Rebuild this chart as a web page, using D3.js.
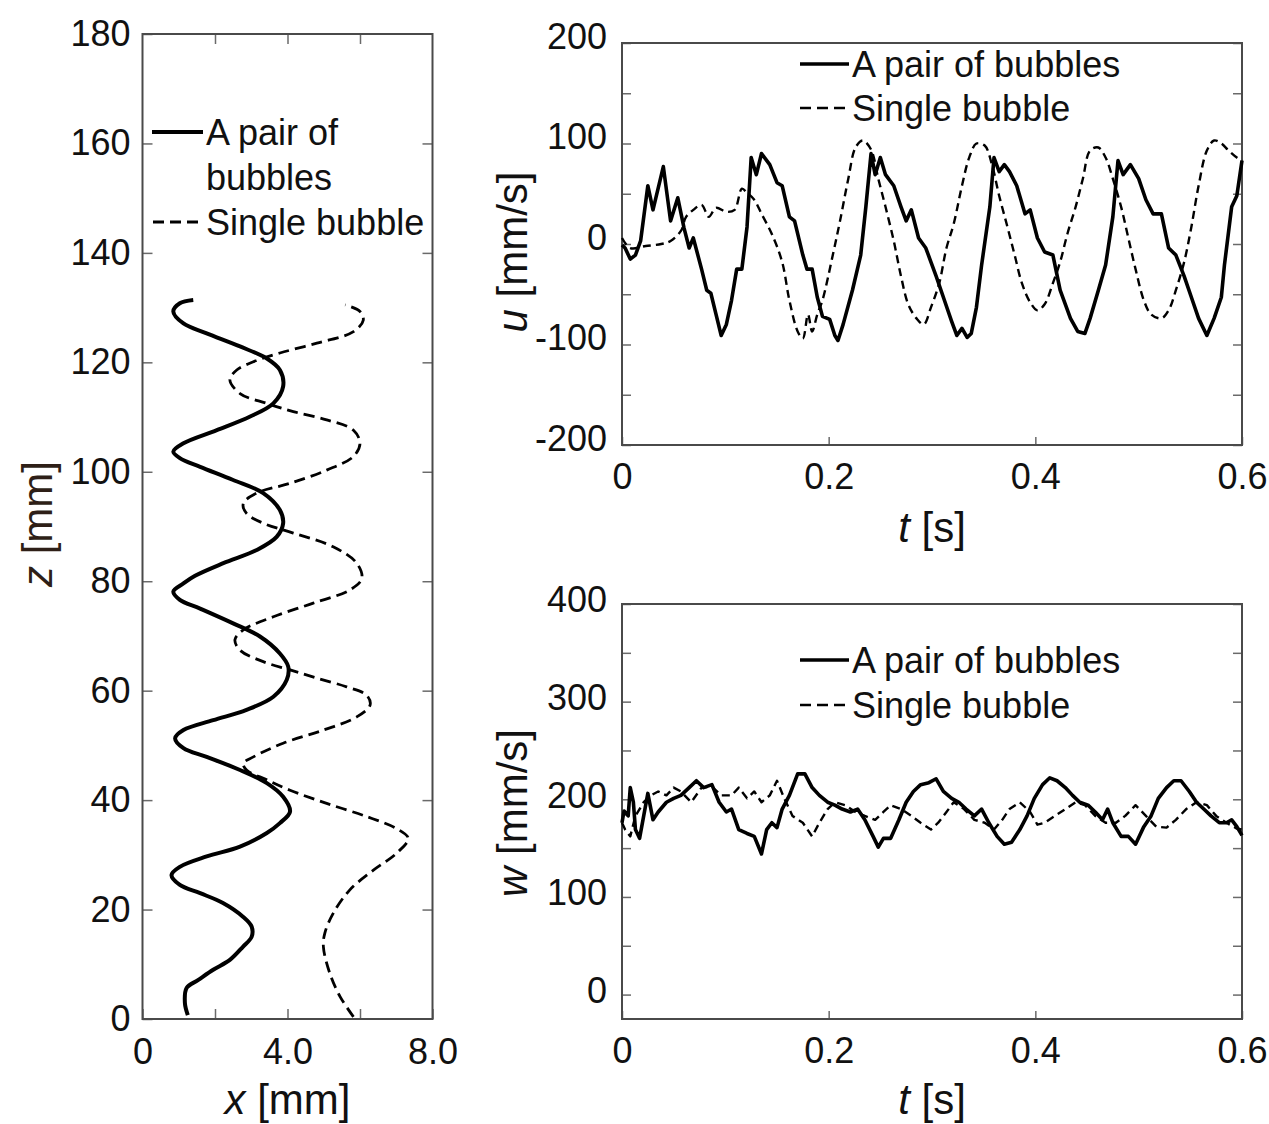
<!DOCTYPE html>
<html><head><meta charset="utf-8">
<script src="https://cdn.jsdelivr.net/npm/d3@7"></script>
<style>
body{margin:0;background:#fff;}
svg text{font-family:"Liberation Sans",Arial,Helvetica,sans-serif;fill:#111;}
</style></head><body>
<svg id="c" width="1269" height="1124"></svg>
<script>
// ---------- Data: left panel (trajectory z vs x) ----------
const pairZ = [0.7,2.9,5.7,7.1,9,10.8,13.2,15,16.9,18.7,21.2,23,24.5,26.3,27.8,29.7,31.5,34,35.8,37.9,40.6,43.1,45.5,47.9,49.5,51.3,52.8,54.6,56.5,58.9,62,64.4,66.8,69.9,72.3,75,76.6,78.1,79.6,81,83.3,85.7,88.1,90.6,93,96.1,98.5,100.9,102.5,103.7,105.2,107.6,110.1,112.5,115.6,118.6,120.7,122.9,125.3,127.1,129.3,130.8,131.4];
const pairX = [1.25,1.17,1.22,1.53,1.95,2.41,2.77,3.01,3.01,2.77,2.22,1.59,1.03,0.8,1.03,1.77,2.69,3.43,3.79,4.07,3.88,3.43,2.69,1.77,1.13,0.9,1.13,1.95,2.87,3.61,3.98,4.02,3.79,3.24,2.5,1.59,1.03,0.85,1.13,1.45,2.23,3.15,3.70,3.88,3.79,3.33,2.5,1.59,1.03,0.85,1.13,2.05,2.97,3.61,3.88,3.79,3.43,2.69,1.77,1.13,0.85,1.03,1.40];
const singleZ = [0.4,4.1,8.3,13.2,15.7,19.3,23.6,27.2,30.3,33,34.8,37,39.4,41.8,43.7,45.5,46.7,47.9,50.4,52.8,55.2,57.4,59.2,60.7,62.3,63.8,65.3,67.4,69.3,71.1,73.5,76,78.4,80.5,83.3,86.3,88.8,90.6,92.4,94.2,96.1,97.9,100.3,102.8,105.2,107.6,109.5,111,112.5,114.3,116.8,118.6,120.1,121.7,123.5,125.6,127.7,129.3,130.5];
const singleX = [5.82,5.45,5.17,4.99,5.03,5.26,5.72,6.37,7.01,7.33,7.01,6.18,5.08,4.07,3.43,2.87,2.78,3.06,3.88,4.99,5.91,6.28,6.18,5.63,4.81,4.07,3.33,2.69,2.55,2.78,3.61,4.71,5.72,6.05,5.91,5.26,4.16,3.33,2.87,2.78,3.15,4.07,5.08,5.82,6.0,5.82,5.08,4.16,3.43,2.69,2.41,2.60,3.06,3.79,4.81,5.82,6.09,6.0,5.59];

// ---------- Data: top-right (u vs t) ----------
const tPairU = [0,0.003,0.008,0.013,0.018,0.025,0.030,0.040,0.047,0.054,0.060,0.065,0.069,0.077,0.082,0.086,0.091,0.096,0.101,0.106,0.111,0.116,0.121,0.125,0.130,0.135,0.143,0.150,0.155,0.162,0.167,0.175,0.179,0.184,0.189,0.194,0.201,0.206,0.209,0.214,0.223,0.231,0.236,0.241,0.245,0.250,0.255,0.263,0.270,0.275,0.280,0.287,0.294,0.299,0.304,0.312,0.319,0.324,0.329,0.334,0.338,0.343,0.348,0.356,0.360,0.365,0.370,0.375,0.382,0.390,0.395,0.402,0.409,0.417,0.424,0.434,0.441,0.448,0.453,0.461,0.468,0.475,0.480,0.485,0.492,0.500,0.507,0.514,0.522,0.529,0.536,0.544,0.551,0.558,0.566,0.573,0.580,0.583,0.590,0.595,0.600];
const uPair = [-1,-4,-15,-11,3,58,34,77,23,46,16,-4,6,-25,-46,-49,-70,-91,-80,-56,-25,-25,17,86,69,90,79,61,58,27,23,-11,-25,-25,-53,-72,-75,-91,-96,-80,-46,-11,37,90,69,86,69,58,37,23,34,6,-4,-18,-32,-56,-77,-91,-84,-93,-89,-63,-21,37,86,72,79,72,58,30,34,6,-8,-11,-46,-74,-87,-89,-74,-46,-21,27,83,69,79,65,44,30,30,-4,-11,-32,-53,-74,-91,-74,-53,-21,37,48,83];
const tSingleU = [0,0.008,0.023,0.038,0.047,0.057,0.062,0.069,0.077,0.084,0.091,0.101,0.109,0.116,0.121,0.128,0.135,0.145,0.155,0.162,0.170,0.175,0.180,0.184,0.189,0.194,0.204,0.211,0.219,0.226,0.233,0.241,0.248,0.255,0.263,0.270,0.277,0.285,0.292,0.299,0.307,0.314,0.321,0.329,0.336,0.343,0.351,0.358,0.365,0.373,0.380,0.387,0.395,0.402,0.409,0.417,0.424,0.431,0.439,0.446,0.453,0.461,0.468,0.475,0.483,0.490,0.497,0.505,0.512,0.522,0.529,0.536,0.544,0.551,0.558,0.566,0.573,0.580,0.587,0.595,0.600];
const uSingle = [6,-4,-2,0,3,13,27,34,39,27,36,32,34,55,51,44,30,10,-18,-56,-87,-94,-70,-87,-70,-56,-11,23,65,96,103,94,65,37,3,-32,-60,-74,-80,-63,-39,-4,20,58,86,100,98,79,48,17,-11,-39,-58,-66,-60,-39,-18,10,37,65,93,96,86,65,37,6,-25,-56,-70,-74,-66,-46,-18,17,58,93,103,100,93,86,83];

// ---------- Data: bottom-right (w vs t) ----------
const tPairW = [0,0.002,0.006,0.008,0.011,0.013,0.017,0.021,0.025,0.030,0.035,0.043,0.050,0.057,0.065,0.072,0.079,0.087,0.094,0.101,0.106,0.113,0.121,0.128,0.135,0.140,0.145,0.150,0.155,0.162,0.170,0.177,0.184,0.191,0.199,0.206,0.213,0.221,0.228,0.235,0.243,0.248,0.253,0.260,0.268,0.275,0.282,0.289,0.297,0.304,0.311,0.319,0.326,0.333,0.341,0.348,0.355,0.363,0.370,0.377,0.385,0.392,0.399,0.407,0.414,0.421,0.429,0.436,0.443,0.451,0.458,0.465,0.470,0.475,0.483,0.490,0.497,0.505,0.512,0.519,0.527,0.534,0.541,0.549,0.556,0.563,0.570,0.578,0.585,0.590,0.595,0.600];
const wPair = [176,188,183,212,197,169,160,183,206,179,187,197,201,204,212,219,212,215,197,187,190,169,165,162,144,169,176,171,190,204,226,226,212,204,197,194,190,187,190,179,162,151,160,160,179,197,208,215,217,221,208,201,197,190,183,190,176,162,154,156,169,183,201,215,222,219,212,204,197,194,187,179,190,176,162,162,154,172,183,201,212,219,219,208,197,190,183,176,176,179,172,163];
const tSingleW = [0,0.003,0.008,0.013,0.021,0.028,0.035,0.043,0.050,0.057,0.067,0.077,0.087,0.096,0.106,0.113,0.121,0.128,0.135,0.143,0.150,0.157,0.165,0.175,0.184,0.191,0.199,0.206,0.216,0.226,0.235,0.245,0.253,0.260,0.270,0.280,0.289,0.299,0.306,0.314,0.321,0.331,0.341,0.351,0.360,0.368,0.375,0.385,0.395,0.402,0.409,0.419,0.429,0.439,0.448,0.458,0.468,0.478,0.487,0.497,0.507,0.517,0.527,0.536,0.546,0.556,0.566,0.575,0.585,0.595,0.600];
const wSingle = [176,169,162,183,197,204,208,204,212,208,197,212,213,204,204,212,201,208,197,204,219,201,183,176,162,176,190,197,194,187,183,179,187,194,190,183,176,169,176,187,197,190,179,176,169,179,190,197,187,174,176,183,190,197,194,183,176,176,183,194,183,172,171,179,190,197,194,183,176,170,169];

// ---------- Tick labels ----------
const zTicks = [0,20,40,60,80,100,120,140,160,180];
const xTicks = [0,2,4,6,8];
const xTickLabels = {0:"0",4:"4.0",8:"8.0"};
const uTicks = [-200,-150,-100,-50,0,50,100,150,200];
const wTicks = [0,50,100,150,200,250,300,350,400];
const tTicks = [0,0.2,0.4,0.6];
const tTickLabels = ["0","0.2","0.4","0.6"];
const legendNames = ["A pair of bubbles","Single bubble"];

const svg = d3.select("#c");

// ---------- Scales ----------
const xL = d3.scaleLinear().domain([0,8]).range([142.5,432.5]);
const zL = d3.scaleLinear().domain([0,180]).range([1019,34]);
const tS = d3.scaleLinear().domain([0,0.6]).range([622,1242]);
const uS = d3.scaleLinear().domain([-200,200]).range([445,43]);
const wS = d3.scaleLinear().domain([-25,400]).range([1019,604]);

function styleAxis(g, fs){
  g.select(".domain").remove();
  g.attr("font-family",null).attr("font-size",null);
  g.selectAll(".tick line").attr("stroke","#6a6a6a").attr("stroke-width",1.5);
  g.selectAll(".tick text").style("font-size",fs+"px").attr("fill","#111");
}
function frame(xs, ys){
  const [x0,x1]=xs.range(), [y0,y1]=ys.range();
  svg.append("rect").attr("x",Math.min(x0,x1)).attr("y",Math.min(y0,y1))
    .attr("width",Math.abs(x1-x0)).attr("height",Math.abs(y1-y0))
    .attr("fill","none").attr("stroke","#4a4a4a").attr("stroke-width",2);
}

// ---------- Left panel ----------
svg.append("g").attr("transform","translate(142.5,0)")
  .call(d3.axisLeft(zL).tickValues(zTicks).tickSize(-10).tickPadding(12).tickFormat(d=>String(d)))
  .call(g=>styleAxis(g,36));
svg.append("g").attr("transform","translate(432.5,0)")
  .call(d3.axisRight(zL).tickValues(zTicks.slice(1,-1)).tickSize(-10).tickFormat(""))
  .call(g=>styleAxis(g,36));
svg.append("g").attr("transform","translate(0,1019)")
  .call(d3.axisBottom(xL).tickValues(xTicks).tickSize(-10).tickPadding(19).tickFormat(d=>xTickLabels[d]||""))
  .call(g=>styleAxis(g,36));
svg.append("g").attr("transform","translate(0,34)")
  .call(d3.axisTop(xL).tickValues(xTicks.slice(1,-1)).tickSize(-10).tickFormat(""))
  .call(g=>styleAxis(g,36));
frame(xL,zL);

const lineL = d3.line().x(d=>xL(d[0])).y(d=>zL(d[1])).curve(d3.curveCatmullRom.alpha(0.5));
svg.append("path").datum(pairX.map((v,i)=>[v,pairZ[i]])).attr("d",lineL)
  .attr("fill","none").attr("stroke","#000").attr("stroke-width",4).attr("stroke-linejoin","round");
svg.append("path").datum(singleX.map((v,i)=>[v,singleZ[i]])).attr("d",lineL)
  .attr("fill","none").attr("stroke","#000").attr("stroke-width",2.8).attr("stroke-dasharray","11,6");

// left legend
svg.append("line").attr("x1",152).attr("x2",203).attr("y1",132).attr("y2",132).attr("stroke","#000").attr("stroke-width",4);
svg.append("text").attr("x",206).attr("y",145).style("font-size","36px").text("A pair of");
svg.append("text").attr("x",206).attr("y",190).style("font-size","36px").text("bubbles");
svg.append("line").attr("x1",153).attr("x2",203).attr("y1",222).attr("y2",222).attr("stroke","#000").attr("stroke-width",2.8).attr("stroke-dasharray","11,6");
svg.append("text").attr("x",206).attr("y",235).style("font-size","36px").text(legendNames[1]);

// left axis titles
const xt = svg.append("text").attr("x",287.5).attr("y",1114).attr("text-anchor","middle").style("font-size","42px");
xt.append("tspan").style("font-style","italic").text("x");
xt.append("tspan").text(" [mm]");
const zt = svg.append("text").attr("transform","translate(52,524) rotate(-90)").attr("text-anchor","middle").style("font-size","42px").style("fill","#2e1f17");
zt.append("tspan").style("font-style","italic").style("fill","#2e1f17").text("z");
zt.append("tspan").style("fill","#2e1f17").text(" [mm]");

// ---------- Right panels ----------
function rightPanel(yS, yTicks, yLabelStep, dy){
  svg.append("g").attr("transform","translate(622,0)")
    .call(d3.axisLeft(yS).tickValues(yTicks).tickSize(-9).tickPadding(15).tickFormat(d=> d%yLabelStep===0 ? String(d) : ""))
    .call(g=>styleAxis(g,36))
    .call(g=>g.selectAll(".tick text").attr("dy",dy));
  svg.append("g").attr("transform","translate(1242,0)")
    .call(d3.axisRight(yS).tickValues(yTicks).tickSize(-9).tickFormat(""))
    .call(g=>styleAxis(g,36));
  svg.append("g").attr("transform",`translate(0,${yS.range()[0]})`)
    .call(d3.axisBottom(tS).tickValues(tTicks).tickSize(-8).tickPadding(18).tickFormat((d,i)=>tTickLabels[i]))
    .call(g=>styleAxis(g,36));
  frame(tS,yS);
}
rightPanel(uS,uTicks,100,"0.14em");
rightPanel(wS,wTicks,100,"0.22em");

function drawSeries(tArr, vArr, yS, dashed, curve){
  const ln = d3.line().x(d=>tS(d[0])).y(d=>yS(d[1])).curve(curve);
  const p = svg.append("path").datum(tArr.map((t,i)=>[t,vArr[i]])).attr("d",ln)
    .attr("fill","none").attr("stroke","#000").attr("stroke-linejoin","round");
  if(dashed) p.attr("stroke-width",2.4).attr("stroke-dasharray","8,5");
  else p.attr("stroke-width",3.6);
}
drawSeries(tSingleU,uSingle,uS,true,d3.curveCatmullRom);
drawSeries(tPairU,uPair,uS,false,d3.curveLinear);
drawSeries(tSingleW,wSingle,wS,true,d3.curveLinear);
drawSeries(tPairW,wPair,wS,false,d3.curveLinear);

function legend(y1,y2){
  svg.append("line").attr("x1",800).attr("x2",849).attr("y1",y1).attr("y2",y1).attr("stroke","#000").attr("stroke-width",3.6);
  svg.append("text").attr("x",852).attr("y",y1+13).style("font-size","36px").text(legendNames[0]);
  svg.append("line").attr("x1",800).attr("x2",849).attr("y1",y2).attr("y2",y2).attr("stroke","#000").attr("stroke-width",2.4).attr("stroke-dasharray","11,6");
  svg.append("text").attr("x",852).attr("y",y2+13).style("font-size","36px").text(legendNames[1]);
}
legend(64,108);
legend(660,705);

function ylab(cx, cy, v, unit){
  const t = svg.append("text").attr("transform",`translate(${cx},${cy}) rotate(-90)`).attr("text-anchor","middle").style("font-size","42px");
  t.append("tspan").style("font-style","italic").text(v);
  t.append("tspan").text(unit);
}
ylab(527,252,"u"," [mm/s]");
ylab(527,813,"w"," [mm/s]");
function tlab(y){
  const t = svg.append("text").attr("x",932).attr("y",y).attr("text-anchor","middle").style("font-size","42px");
  t.append("tspan").style("font-style","italic").text("t");
  t.append("tspan").text(" [s]");
}
tlab(542);
tlab(1114);
</script>
</body></html>
